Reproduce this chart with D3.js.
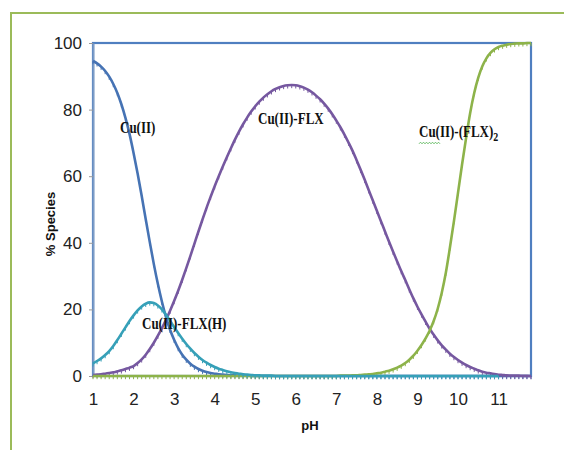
<!DOCTYPE html>
<html>
<head>
<meta charset="utf-8">
<script src="https://cdn.jsdelivr.net/npm/d3@7"></script>
<style>
  body { margin: 0; background: #fff; }
  svg { display: block; }
</style>
</head>
<body>
<svg id="chart" width="564" height="450"></svg>
<script>
// pH values (x) at 0.1 steps
const pH = [
  1.0, 1.1, 1.2, 1.3, 1.4, 1.5, 1.6, 1.7, 1.8, 1.9,
  2.0, 2.1, 2.2, 2.3, 2.4, 2.5, 2.6, 2.7, 2.8, 2.9,
  3.0, 3.1, 3.2, 3.3, 3.4, 3.5, 3.6, 3.7, 3.8, 3.9,
  4.0, 4.1, 4.2, 4.3, 4.4, 4.5, 4.6, 4.7, 4.8, 4.9,
  5.0, 5.1, 5.2, 5.3, 5.4, 5.5, 5.6, 5.7, 5.8, 5.9,
  6.0, 6.1, 6.2, 6.3, 6.4, 6.5, 6.6, 6.7, 6.8, 6.9,
  7.0, 7.1, 7.2, 7.3, 7.4, 7.5, 7.6, 7.7, 7.8, 7.9,
  8.0, 8.1, 8.2, 8.3, 8.4, 8.5, 8.6, 8.7, 8.8, 8.9,
  9.0, 9.1, 9.2, 9.3, 9.4, 9.5, 9.6, 9.7, 9.8, 9.9,
  10.0, 10.1, 10.2, 10.3, 10.4, 10.5, 10.6, 10.7, 10.8, 10.9,
  11.0, 11.1, 11.2, 11.3, 11.4, 11.5, 11.6, 11.7, 11.8
];

// % Cu(II)
const cuFree = [
  94.6, 93.9, 92.9, 91.6, 89.9, 87.7, 85.0, 81.6, 77.5, 72.7,
  67.0, 60.8, 54.1, 47.1, 40.2, 33.6, 27.6, 22.3, 17.7, 13.9,
  10.9, 8.4, 6.4, 4.9, 3.7, 2.8, 2.1, 1.6, 1.2, 0.9,
  0.7, 0.5, 0.4, 0.3, 0.2, 0.2, 0.1, 0.1, 0.1, 0.05,
  0, 0, 0, 0, 0, 0, 0, 0, 0, 0,
  0, 0, 0, 0, 0, 0, 0, 0, 0, 0,
  0, 0, 0, 0, 0, 0, 0, 0, 0, 0,
  0, 0, 0, 0, 0, 0, 0, 0, 0, 0,
  0, 0, 0, 0, 0, 0, 0, 0, 0, 0,
  0, 0, 0, 0, 0, 0, 0, 0, 0, 0,
  0, 0, 0, 0, 0, 0, 0, 0, 0
];

// % Cu(II)-FLX(H), stops at pH 11
const cuFlxH = [
  3.8, 4.5, 5.3, 6.3, 7.5, 9.0, 10.8, 12.7, 14.6, 16.5,
  18.2, 19.7, 20.9, 21.7, 22.1, 21.9, 21.2, 20.0, 18.4, 16.6,
  14.7, 12.9, 11.2, 9.6, 8.2, 6.9, 5.8, 4.8, 4.0, 3.3,
  2.7, 2.2, 1.8, 1.4, 1.1, 0.9, 0.7, 0.5, 0.4, 0.3,
  0.2, 0.2, 0.1, 0.1, 0.1, 0, 0, 0, 0, 0,
  0, 0, 0, 0, 0, 0, 0, 0, 0, 0,
  0, 0, 0, 0, 0, 0, 0, 0, 0, 0,
  0, 0, 0, 0, 0, 0, 0, 0, 0, 0,
  0, 0, 0, 0, 0, 0, 0, 0, 0, 0,
  0, 0, 0, 0, 0, 0, 0, 0, 0, 0,
  0
];

// % Cu(II)-FLX
const cuFlx = [
  0.3, 0.4, 0.5, 0.7, 0.9, 1.1, 1.4, 1.7, 2.1, 2.5,
  3.0, 3.9, 5.0, 6.4, 8.1, 10.0, 12.1, 14.4, 16.9, 19.6,
  22.5, 25.6, 28.9, 32.4, 36.0, 39.7, 43.4, 47.0, 50.5, 53.8,
  57.0, 60.0, 62.9, 65.7, 68.4, 71.0, 73.4, 75.6, 77.6, 79.4,
  81.0, 82.4, 83.6, 84.6, 85.5, 86.2, 86.7, 87.1, 87.3, 87.4,
  87.3, 87.0, 86.6, 86.0, 85.2, 84.2, 83.1, 81.8, 80.3, 78.6,
  76.7, 74.7, 72.5, 70.1, 67.6, 64.8, 61.9, 58.9, 55.8, 52.7,
  49.6, 46.5, 43.4, 40.3, 37.3, 34.4, 31.5, 28.8, 26.0, 23.3,
  20.8, 18.5, 16.3, 14.2, 12.4, 10.7, 9.2, 7.9, 6.7, 5.7,
  4.8, 4.0, 3.3, 2.7, 2.2, 1.7, 1.3, 1.0, 0.8, 0.6,
  0.4, 0.3, 0.2, 0.15, 0.1, 0.1, 0.05, 0.05, 0
];

// % Cu(II)-(FLX)2
const cuFlx2 = [
  0, 0, 0, 0, 0, 0, 0, 0, 0, 0,
  0, 0, 0, 0, 0, 0, 0, 0, 0, 0,
  0, 0, 0, 0, 0, 0, 0, 0, 0, 0,
  0, 0, 0, 0, 0, 0, 0, 0, 0, 0,
  0, 0, 0, 0, 0, 0, 0, 0, 0, 0,
  0, 0, 0, 0, 0, 0, 0, 0, 0, 0,
  0, 0.1, 0.1, 0.1, 0.2, 0.2, 0.3, 0.4, 0.5, 0.6,
  0.8, 1.0, 1.3, 1.6, 2.0, 2.5, 3.1, 3.9, 4.9, 6.1,
  7.6, 9.3, 11.3, 13.6, 16.5, 20.2, 25.0, 31.0, 38.5, 46.5,
  55.0, 63.5, 71.5, 79.0, 85.0, 89.6, 93.0, 95.4, 97.0, 98.1,
  98.8, 99.2, 99.5, 99.7, 99.8, 99.9, 99.9, 100, 100
];

const xTicks = [1, 2, 3, 4, 5, 6, 7, 8, 9, 10, 11];
const yTicks = [0, 20, 40, 60, 80, 100];

// drawing order = z order (last on top)
const series = [
  { name: 'Cu(II)', values: cuFree, color: '#4673b4' },
  { name: 'Cu(II)-FLX', values: cuFlx, color: '#7658a0' },
  { name: 'Cu(II)-(FLX)2', values: cuFlx2, color: '#8db34a' },
  { name: 'Cu(II)-FLX(H)', values: cuFlxH, color: '#36a0b8' }
];

const svg = d3.select('#chart');
const x = d3.scaleLinear().domain([1, 11.8]).range([93, 531]);
const y = d3.scaleLinear().domain([0, 100]).range([376, 43]);

// outer green frame
svg.append('rect')
  .attr('x', 11).attr('y', 13).attr('width', 620).attr('height', 500)
  .attr('fill', 'none').attr('stroke', '#9bbb59').attr('stroke-width', 2);

// plot area border
svg.append('rect')
  .attr('x', x(1)).attr('y', y(100))
  .attr('width', x(11.8) - x(1)).attr('height', y(0) - y(100))
  .attr('fill', 'none').attr('stroke', '#4f7fc0').attr('stroke-width', 2.2);

// y axis
const yAxis = svg.append('g')
  .attr('transform', `translate(${x(1)},0)`)
  .call(d3.axisLeft(y).tickValues(yTicks).tickSize(4).tickPadding(7).tickSizeOuter(0));
yAxis.select('.domain').attr('stroke', '#7d9cc6').attr('stroke-width', 2);
yAxis.selectAll('.tick line').attr('stroke', '#999');
yAxis.selectAll('text')
  .attr('font-family', '"Liberation Sans Narrow", "Arial Narrow", sans-serif')
  .attr('font-size', 17).attr('fill', '#222');

// x axis labels
const xAxis = svg.append('g')
  .attr('transform', `translate(0,${y(0)})`)
  .call(d3.axisBottom(x).tickValues(xTicks).tickSize(0).tickPadding(17));
xAxis.select('.domain').remove();
xAxis.selectAll('text')
  .attr('font-family', '"Liberation Sans Narrow", "Arial Narrow", sans-serif')
  .attr('font-size', 17).attr('fill', '#222');

// axis titles
svg.append('text')
  .attr('transform', 'translate(55,224) rotate(-90)')
  .attr('text-anchor', 'middle')
  .attr('font-family', '"Liberation Sans", Arial, sans-serif')
  .attr('font-weight', 'bold').attr('font-size', 13).attr('fill', '#111')
  .text('% Species');

svg.append('text')
  .attr('x', 310).attr('y', 430)
  .attr('text-anchor', 'middle')
  .attr('font-family', '"Liberation Sans", Arial, sans-serif')
  .attr('font-weight', 'bold').attr('font-size', 13).attr('fill', '#111')
  .text('pH');

// series lines + small tick markers
const line = d3.line()
  .x((d) => x(d.x))
  .y((d) => y(d.y))
  .curve(d3.curveMonotoneX);

series.forEach((s) => {
  const pts = s.values.map((v, i) => ({ x: pH[i], y: v }));
  const g = svg.append('g');
  g.append('path')
    .datum(pts)
    .attr('d', line)
    .attr('fill', 'none')
    .attr('stroke', s.color)
    .attr('stroke-width', 2.6)
    .attr('stroke-linejoin', 'round');
  g.selectAll('line')
    .data(pts)
    .enter().append('line')
    .attr('x1', (d) => x(d.x)).attr('x2', (d) => x(d.x))
    .attr('y1', (d) => y(d.y)).attr('y2', (d) => y(d.y) + 3.2)
    .attr('stroke', s.color).attr('stroke-width', 1);
});

// species labels (Times-like, slightly tall)
const labelFont = '"Liberation Serif", "Times New Roman", serif';
function label(px, py, parts) {
  const t = svg.append('text')
    .attr('transform', `translate(${px},${py}) scale(1,1.25)`)
    .attr('font-family', labelFont).attr('font-weight', 'bold')
    .attr('font-size', 13).attr('fill', '#111');
  parts.forEach((p) => {
    const sp = t.append('tspan').text(p.text);
    if (p.sub) sp.attr('font-size', 10).attr('dy', 3);
  });
}

label(120, 133, [{ text: 'Cu(II)' }]);
label(258, 124, [{ text: 'Cu(II)-FLX' }]);
label(142, 329, [{ text: 'Cu(II)-FLX(H)' }]);
label(419, 137, [{ text: 'Cu(II)-(FLX)' }, { text: '2', sub: true }]);

// spell-check squiggle under "Cu"
const sq = [];
for (let i = 0; i <= 14; i++) sq.push([419 + i * 1.5, 143 + (i % 2 ? -0.8 : 0.8)]);
svg.append('path')
  .attr('d', d3.line()(sq))
  .attr('fill', 'none').attr('stroke', '#5cb85c').attr('stroke-width', 0.9);
</script>
</body>
</html>
